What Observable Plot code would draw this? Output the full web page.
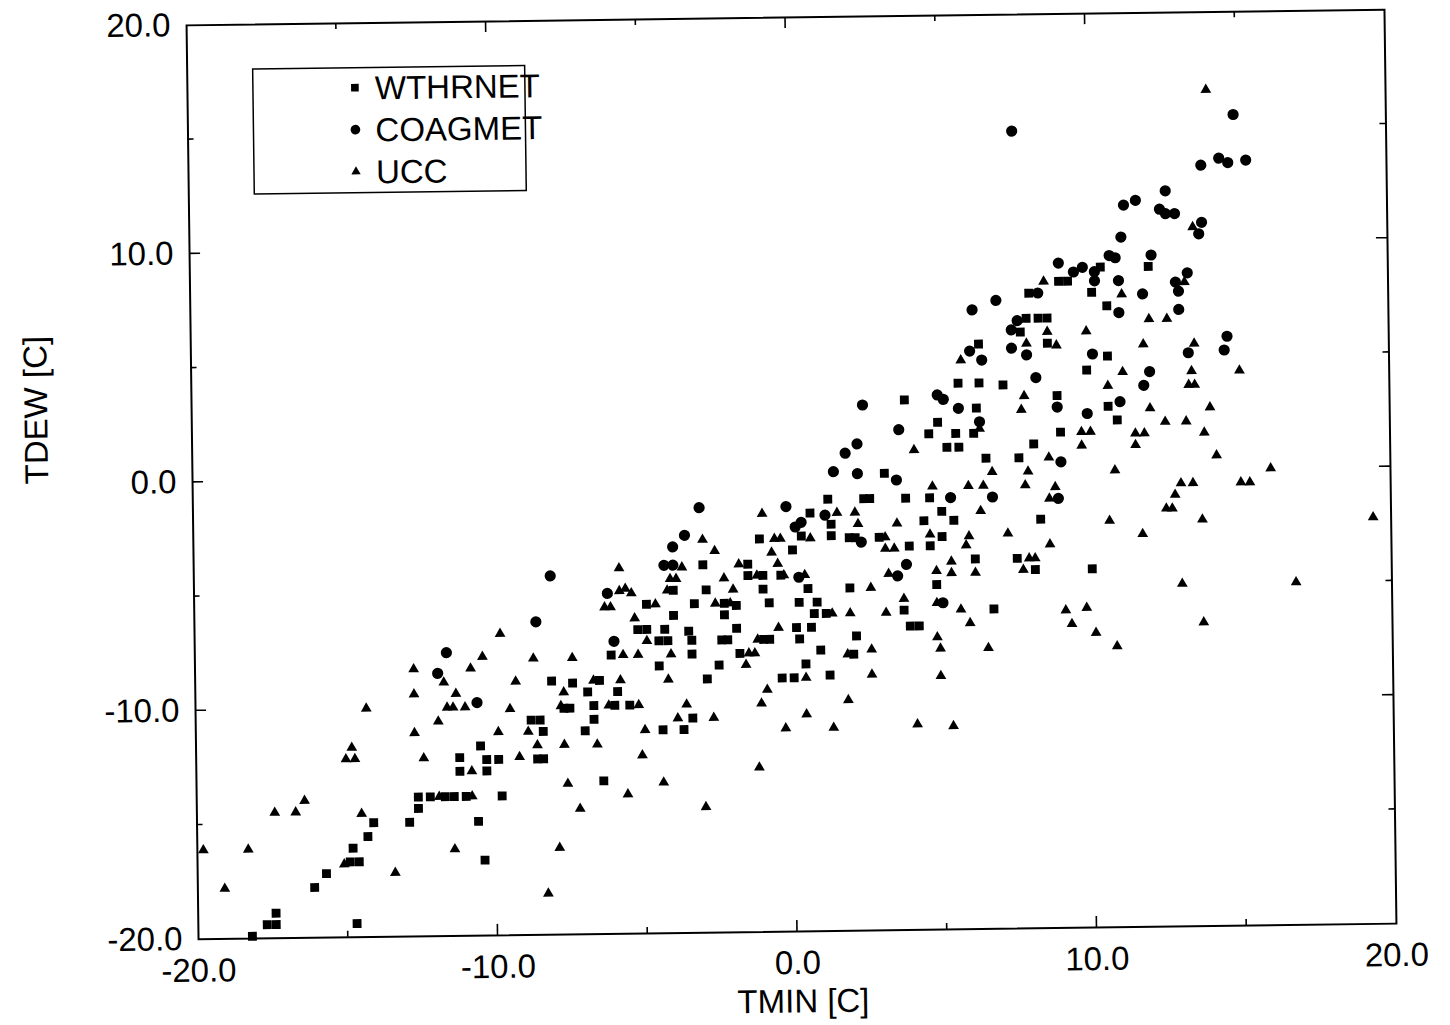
<!DOCTYPE html>
<html><head><meta charset="utf-8">
<script src="https://cdn.jsdelivr.net/npm/d3@7"></script>
<script src="https://cdn.jsdelivr.net/npm/@observablehq/plot@0.6"></script>
<style>
html,body{margin:0;padding:0;background:#fff;}
#wrap{position:relative;width:1450px;height:1025px;overflow:hidden;background:#fff;}
#chart{position:absolute;left:0;top:0;width:1450px;height:1025px;transform:rotate(-0.75deg);transform-origin:791px 474px;}
</style></head><body><div id="wrap"><div id="chart"></div></div>
<script>
const xTitle = "TMIN [C]";
const yTitle = "TDEW [C]";
const seriesNames = ["WTHRNET", "COAGMET", "UCC"];
const xLabelTicks = [-20, -10, 0, 10, 20];
const yLabelTicks = [-20, -10, 0, 10, 20];
const minorTicks = [-15, -10, -5, 0, 5, 10, 15];

const wthrnet = [
[-12.6,-13.9],[-12.2,-13.9],[-11.7,-13.9],[-11.4,-13.9],[-11.0,-13.9],[-9.8,-13.9],
[-12.6,-14.4],[-14.1,-15.0],[-12.9,-15.0],[-14.3,-15.6],[-14.8,-16.1],[-14.9,-16.7],[-14.6,-16.7],[-15.7,-17.2],[-16.1,-17.8],[-17.4,-18.9],[-17.7,-19.4],[-17.4,-19.4],[-14.7,-19.4],[-18.2,-19.9],
[-3.3,-5.6],[-4.0,-6.1],[-5.2,-6.7],[-4.9,-6.7],[-4.3,-6.7],[-3.5,-6.8],[-4.5,-7.2],[-4.2,-7.2],[-3.4,-7.2],[-3.4,-7.8],[-4.5,-8.3],[-8.1,-8.9],[-7.4,-9.0],[-6.5,-8.9],[-6.9,-9.4],[-5.9,-9.4],[-7.7,-10.1],[-7.5,-10.1],[-6.7,-10.0],[-6.0,-10.0],[-5.5,-10.0],[-6.7,-10.6],[-3.4,-10.6],[-8.8,-10.6],[-8.5,-10.6],[-8.4,-11.1],[-7.0,-11.1],[-4.4,-11.1],[-3.7,-11.1],[-10.5,-11.7],[-11.2,-12.2],[-10.3,-12.3],[-9.9,-12.3],[-8.6,-12.3],[-8.4,-12.3],[-11.2,-12.8],[-10.3,-12.8],[-6.4,-13.3],[-10.6,-15.0],[-4.9,-5.6],[-4.0,-5.0],[-6.1,-7.8],[-10.4,-16.7],
[3.8,3.2],[4.9,2.2],[4.6,1.7],[3.1,0.0],[1.2,-1.1],[2.4,-1.1],[2.6,-1.1],[3.8,-1.1],[4.6,-1.1],[0.6,-1.7],[1.3,-2.2],[5.0,-1.7],[4.4,-2.1],[-1.1,-2.8],[0.3,-2.7],[1.3,-2.7],[1.9,-2.8],[2.1,-2.8],[2.9,-2.8],[5.0,-2.8],[0.0,-3.3],[3.9,-3.2],[4.6,-3.2],[-3.0,-3.9],[-1.5,-3.9],[-1.5,-4.4],[-1.0,-4.4],[-0.4,-4.4],[-2.9,-5.0],[-1.0,-5.0],[0.5,-5.0],[1.9,-5.0],[4.8,-4.9],[-2.3,-5.6],[-1.9,-5.7],[-0.8,-5.6],[0.2,-5.6],[0.8,-5.6],[-2.3,-6.1],[0.7,-6.1],[1.1,-6.1],[3.7,-6.0],[-1.9,-6.7],[0.1,-6.7],[0.6,-6.7],[3.9,-6.7],[4.2,-6.7],[-2.4,-7.2],[-2.2,-7.2],[0.2,-7.2],[-1.0,-7.2],[-0.8,-7.2],[2.1,-7.1],[-1.8,-7.8],[0.9,-7.7],[2.0,-7.9],[-2.5,-8.3],[0.4,-8.3],[-2.9,-8.9],[-0.4,-8.9],[0.0,-8.9],[1.2,-8.8],
[10.4,8.9],[12.0,8.9],[9.0,8.3],[9.3,8.3],[10.1,7.8],[10.6,7.2],[8.0,7.8],[7.9,6.7],[8.3,6.7],[8.6,6.7],[7.7,6.1],[6.3,5.6],[8.6,5.6],[10.6,5.0],[9.9,4.4],[5.6,3.9],[6.3,3.9],[7.1,3.8],[8.9,3.3],[6.2,2.8],[10.6,2.8],[10.9,2.2],[5.5,1.7],[6.1,1.7],[9.0,1.7],[5.2,1.1],[5.6,1.1],[8.1,1.2],[6.5,0.6],[7.6,0.6],[5.4,-2.1],[8.3,-2.1],[6.1,-3.8],[7.5,-3.8],[8.1,-4.3],[10.0,-4.3],[6.7,-6.0]
];

const coagmet = [
[-11.6,-7.6],[-11.9,-8.5],[-3.1,-1.4],[-3.6,-2.6],[-4.0,-3.1],[-8.1,-4.3],[-6.2,-5.1],[-8.6,-6.3],[-6.0,-7.2],[-10.6,-9.8],[-4.3,-3.9],[-4.0,-3.9],
[4.9,3.4],[5.1,3.2],[2.4,3.0],[3.6,1.9],[2.2,1.3],[1.8,0.9],[1.4,0.1],[2.2,0.0],[3.5,-0.3],[-0.2,-1.4],[1.1,-1.8],[0.1,-2.3],[0.3,-2.1],[2.3,-3.0],[3.8,-4.0],[3.5,-4.5],[0.2,-4.5],[5.0,-5.7],
[11.1,10.2],[10.7,9.4],[10.9,9.3],[12.1,9.4],[9.0,9.1],[9.5,8.7],[9.8,8.9],[10.2,8.7],[10.2,8.3],[11.0,8.3],[13.3,8.6],[12.9,8.2],[13.0,7.8],[11.8,7.7],[11.0,6.9],[13.0,7.0],[6.9,7.5],[6.1,7.1],[8.3,7.8],[7.6,6.6],[7.4,6.2],[6.0,5.3],[6.4,4.9],[7.4,5.4],[7.9,5.1],[10.1,5.1],[13.3,5.1],[8.2,4.1],[12.0,4.3],[11.8,3.7],[5.6,2.8],[8.9,2.8],[9.9,2.5],[11.0,3.0],[6.3,2.2],[9.0,0.4],[8.9,-1.2],[5.3,-1.1],[6.7,-1.1],
[7.5,14.9],[12.6,12.2],[11.2,11.6],[11.6,11.8],[12.4,11.4],[12.6,11.2],[12.9,11.2],[14.9,15.5],[13.8,13.3],[14.4,13.6],[14.7,13.4],[15.3,13.5],[13.8,10.8],[13.7,10.3],[14.6,5.8],[14.5,5.2]
];

const ucc = [
[-12.7,-8.3],[-11.7,-8.9],[-12.7,-9.4],[-14.3,-10.0],[-11.9,-10.6],[-12.7,-11.1],[-14.8,-11.7],[-15.0,-12.2],[-14.7,-12.2],[-12.4,-12.2],[-16.4,-14.0],[-17.4,-14.5],[-16.7,-14.5],[-14.5,-14.6],[-19.8,-16.1],[-18.3,-16.1],[-19.1,-17.8],[-13.4,-17.2],[-15.1,-16.8],
[-3.7,-4.0],[-5.8,-4.0],[-4.1,-4.5],[-3.9,-4.5],[-4.2,-5.0],[-5.8,-5.0],[-5.6,-4.9],[-5.4,-5.1],[-6.3,-5.7],[-6.1,-5.7],[-5.3,-6.2],[-9.8,-6.8],[-10.4,-7.8],[-8.7,-7.9],[-7.4,-7.9],[-5.7,-7.8],[-5.2,-7.8],[-4.9,-7.2],[-4.1,-7.8],[-10.8,-8.3],[-9.3,-8.9],[-6.7,-8.9],[-5.8,-8.9],[-7.7,-9.4],[-4.2,-8.9],[-11.3,-9.4],[-11.6,-10.0],[-11.4,-10.0],[-11.0,-10.0],[-9.5,-10.1],[-7.8,-10.0],[-6.2,-10.0],[-5.2,-10.0],[-3.6,-10.0],[-3.9,-10.6],[-9.9,-11.1],[-8.9,-11.1],[-5.0,-11.1],[-8.6,-11.7],[-7.7,-11.7],[-6.6,-11.7],[-9.2,-12.2],[-5.1,-12.2],[-10.8,-12.8],[-7.6,-13.4],[-4.4,-13.4],[-5.6,-13.9],[-7.2,-14.5],[-11.9,-13.9],[-10.8,-13.9],[-4.6,-5.6],
[-11.4,-16.2],[-7.9,-16.2],[-8.3,-18.2],
[0.6,-2.8],[3.1,-2.8],[1.5,-1.7],[2.1,-1.7],[2.2,-2.2],[-1.0,-1.7],[3.5,-2.2],[-0.6,-2.8],[-0.4,-2.8],[-3.0,-2.8],[-2.6,-3.3],[-0.7,-3.4],[3.1,-3.3],[3.4,-3.3],[4.6,-2.7],[-1.8,-3.9],[-0.5,-3.9],[-1.2,-4.4],[-0.3,-4.4],[0.4,-4.4],[3.2,-4.4],[-2.3,-4.5],[-2.0,-5.0],[2.6,-5.0],[4.8,-4.3],[-2.6,-5.6],[-2.1,-5.6],[3.7,-5.5],[4.8,-5.7],[1.3,-6.1],[1.9,-6.1],[3.1,-6.1],[-0.5,-6.7],[-1.2,-7.2],[4.8,-7.2],[-1.5,-7.8],[-1.3,-7.8],[2.6,-7.7],[4.9,-7.7],[-1.6,-8.3],[1.8,-7.9],[0.4,-8.9],[2.6,-8.8],[4.9,-8.9],[-0.9,-9.4],[-1.1,-10.0],[1.8,-9.9],[-2.7,-10.6],[0.4,-10.5],[-0.3,-11.1],[1.3,-11.1],[4.1,-11.0],[-1.2,-12.8],[-3.0,-14.5],[4.1,1.0],[4.7,-0.6],
[8.5,8.3],[11.1,7.7],[12.0,6.6],[12.6,6.6],[8.6,6.1],[9.9,6.1],[11.8,5.5],[13.5,5.5],[5.7,4.9],[7.9,5.6],[8.9,5.5],[11.1,4.3],[13.4,4.3],[13.3,3.7],[13.5,3.7],[10.6,3.7],[7.8,3.3],[7.7,2.7],[12.0,2.7],[12.5,2.1],[13.2,2.1],[9.7,1.7],[10.0,1.7],[11.5,1.6],[11.8,1.6],[9.7,1.1],[11.5,1.1],[6.3,1.9],[8.6,0.6],[6.7,0.0],[7.9,0.0],[10.8,0.0],[5.9,-0.6],[6.4,-0.6],[7.8,-0.6],[8.8,-0.7],[8.6,-1.2],[6.3,-1.7],[10.6,-2.2],[11.7,-2.8],[5.9,-2.8],[7.2,-2.7],[5.8,-3.2],[8.6,-3.2],[5.3,-3.9],[5.3,-4.4],[6.1,-4.4],[7.9,-3.8],[8.1,-3.8],[7.7,-4.3],[13.0,-0.6],[13.4,-0.6],[12.8,-1.1],[12.5,-1.7],[12.7,-1.7],[13.0,-5.0],[5.6,-6.0],[5.9,-6.6],[9.1,-6.1],[9.8,-6.0],[9.3,-6.7],[10.1,-7.1],[10.8,-7.7],[6.5,-7.7],[5.3,-11.1],
[14.0,16.6],[13.5,10.6],[13.2,8.2],[15.0,4.3],[14.0,2.7],[13.8,1.6],[14.2,0.6],[16.0,0.0],[15.0,-0.6],[15.3,-0.6],[13.7,-2.2],[19.4,-2.2],[16.8,-5.0],[13.7,-6.7]
];

const FONT = '"Liberation Sans", Arial, Helvetica, sans-serif';
const symbols = ["square", "circle", "triangle"];
const radii = [5.0, 5.6, 4.0];
const toRows = (arr, s) => arr.map(([x, y]) => ({x, y, series: s}));
const sets = [toRows(wthrnet, seriesNames[0]), toRows(coagmet, seriesNames[1]), toRows(ucc, seriesNames[2])];
const fmt = d => d.toFixed(1);

const chart = Plot.plot({
  width: 1450, height: 1025,
  marginLeft: 192, marginRight: 60, marginTop: 17, marginBottom: 94,
  style: {fontFamily: FONT, fontSize: "33px", color: "black", background: "white", overflow: "visible"},
  x: {domain: [-20, 20], ticks: xLabelTicks, tickFormat: fmt, tickSize: 0, tickPadding: 19, label: null},
  y: {domain: [-20, 20], ticks: yLabelTicks, tickFormat: fmt, tickSize: 0, tickPadding: 16, label: null},
  marks: [
    Plot.frame({stroke: "black", strokeWidth: 2}),
    ...sets.map((rows, i) => Plot.dot(rows, {x: "x", y: "y", symbol: symbols[i], r: radii[i], fill: "black", stroke: "none"})),
    Plot.text([xTitle], {frameAnchor: "bottom", dy: 81, dx: 5, text: d => d, fontSize: 33, fill: "black"}),
    Plot.text([yTitle], {frameAnchor: "left", dx: -155, rotate: -90, text: d => d, fontSize: 33, fill: "black"})
  ]
});
document.getElementById("chart").appendChild(chart);

// inward ticks on all four sides, placed with the plot's own scales
const sx = chart.scale("x"), sy = chart.scale("y");
const X = v => sx.apply(v), Y = v => sy.apply(v);
const svg = d3.select(chart);
const L = X(-20), R = X(20), T = Y(20), B = Y(-20);
const tg = svg.append("g").attr("stroke", "black").attr("stroke-width", 1.6);
for (const v of minorTicks) {
  const s = v % 10 === 0 ? 11 : 6;
  const px = X(v), py = Y(v);
  tg.append("line").attr("x1", px).attr("x2", px).attr("y1", B).attr("y2", B - s);
  tg.append("line").attr("x1", px).attr("x2", px).attr("y1", T).attr("y2", T + s);
  tg.append("line").attr("x1", L).attr("x2", L + s).attr("y1", py).attr("y2", py);
  tg.append("line").attr("x1", R).attr("x2", R - s).attr("y1", py).attr("y2", py);
}

// legend box
const lg = svg.append("g").attr("font-family", FONT).attr("font-size", 33).attr("text-anchor", "start");
lg.append("rect").attr("x", 258).attr("y", 62).attr("width", 272).attr("height", 125)
  .attr("fill", "none").attr("stroke", "black").attr("stroke-width", 1.5);
const symTypes = [d3.symbolSquare, d3.symbolCircle, d3.symbolTriangle];
seriesNames.forEach((name, i) => {
  const cy = 82 + i * 42;
  lg.append("path").attr("d", d3.symbol(symTypes[i], Math.PI * radii[i] * radii[i] * 0.75)())
    .attr("transform", `translate(360,${cy})`).attr("fill", "black");
  lg.append("text").attr("x", 380).attr("y", cy).attr("dy", "0.36em").attr("text-anchor", "start")
    .attr("fill", "black").text(name);
});
</script></body></html>
